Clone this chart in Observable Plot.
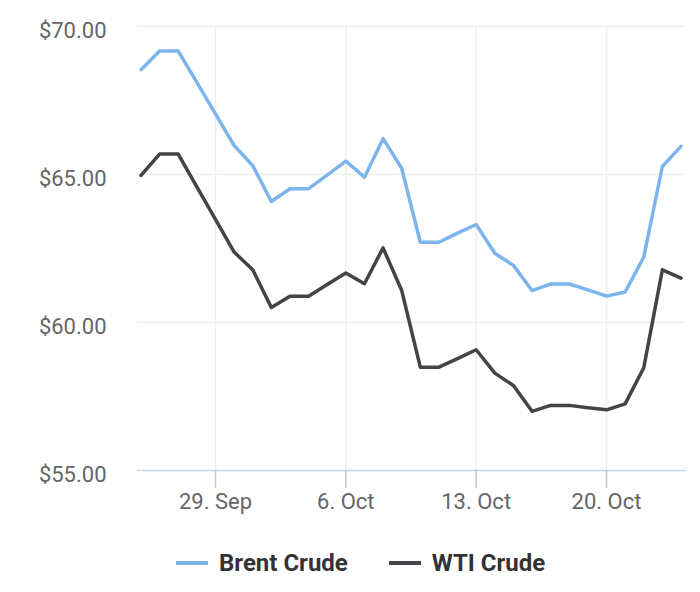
<!DOCTYPE html>
<html>
<head>
<meta charset="utf-8">
<script src="https://cdn.jsdelivr.net/npm/d3@7"></script>
<script src="https://cdn.jsdelivr.net/npm/@observablehq/plot@0.6"></script>
<style>
  html, body { margin: 0; padding: 0; background: #fff; }
  body { width: 700px; height: 592px; position: relative; overflow: hidden; font-family: Roboto, "Noto Sans", sans-serif; }
  #chart svg { display: block; }
  #legend { position: absolute; left: 176px; top: 549px; display: flex; align-items: center; font-family: Roboto, sans-serif; font-weight: bold; font-size: 24px; color: #333; }
  .item { display: flex; align-items: center; }
  .swatch { width: 32px; height: 4px; margin-right: 11px; }
  .item + .item { margin-left: 41px; }
</style>
</head>
<body>
<div id="chart"></div>
<div id="legend"></div>
<script>
const dates = ["2025-09-25","2025-09-26","2025-09-27","2025-09-28","2025-09-29","2025-09-30",
  "2025-10-01","2025-10-02","2025-10-03","2025-10-04","2025-10-05","2025-10-06","2025-10-07",
  "2025-10-08","2025-10-09","2025-10-10","2025-10-11","2025-10-12","2025-10-13","2025-10-14",
  "2025-10-15","2025-10-16","2025-10-17","2025-10-18","2025-10-19","2025-10-20","2025-10-21",
  "2025-10-22","2025-10-23","2025-10-24"];
const brent = [68.54, 69.17, 69.17, 68.11, 67.05, 65.98, 65.30, 64.09, 64.52, 64.52,
  64.98, 65.45, 64.91, 66.21, 65.21, 62.71, 62.71, 63.02, 63.31, 62.34,
  61.93, 61.08, 61.30, 61.30, 61.10, 60.89, 61.03, 62.21, 65.27, 65.95];
const wti = [64.97, 65.69, 65.69, 64.58, 63.48, 62.38, 61.78, 60.51, 60.89, 60.89,
  61.28, 61.67, 61.31, 62.52, 61.08, 58.49, 58.49, 58.78, 59.08, 58.29,
  57.87, 57.00, 57.20, 57.20, 57.12, 57.05, 57.25, 58.47, 61.78, 61.50];
const seriesNames = ["Brent Crude", "WTI Crude"];
const seriesColors = ["#7cb5ec", "#434348"];
const xTicks = ["2025-09-29", "2025-10-06", "2025-10-13", "2025-10-20"];
const monthNames = ["Jan","Feb","Mar","Apr","May","Jun","Jul","Aug","Sep","Oct","Nov","Dec"];
const yTicks = [55, 60, 65, 70];

const parse = s => new Date(s + "T00:00:00Z");
const rows = [];
dates.forEach((d, i) => {
  rows.push({date: parse(d), value: brent[i], series: seriesNames[0]});
  rows.push({date: parse(d), value: wti[i], series: seriesNames[1]});
});
const xTickDates = xTicks.map(parse);
const fmtDate = d => `${d.getUTCDate()}. ${monthNames[d.getUTCMonth()]}`;

const chart = Plot.plot({
  width: 700,
  height: 530,
  marginLeft: 137,
  marginRight: 14,
  marginTop: 26,
  marginBottom: 60,
  style: {fontFamily: "Roboto, sans-serif", fontSize: "22px", background: "#fff", overflow: "visible"},
  x: {type: "utc", domain: [parse(dates[0]), parse(dates[dates.length - 1])], range: [140.5, 680.5]},
  y: {domain: [55, 70]},
  color: {domain: seriesNames, range: seriesColors},
  marks: [
    Plot.gridY(yTicks, {stroke: "#efefef", strokeOpacity: 1, strokeWidth: 1.5}),
    Plot.gridX(xTickDates, {stroke: "#efefef", strokeOpacity: 1, strokeWidth: 1.5}),
    Plot.ruleY([55], {stroke: "#ccd6eb", strokeWidth: 1.5}),
    Plot.axisY(yTicks, {tickSize: 0, tickPadding: 31, tickFormat: d => `$${d.toFixed(2)}`, fill: "#666", fontSize: 22, dy: 4.5, label: null}),
    Plot.axisX(xTickDates, {tickSize: 18, tickPadding: 5, tickFormat: fmtDate, stroke: "#c8c8c8", strokeWidth: 1.5, fill: "#666", fontSize: 22, label: null}),
    Plot.line(rows, {x: "date", y: "value", stroke: "series", strokeWidth: 3.5, strokeLinejoin: "round", strokeLinecap: "round"})
  ]
});
document.getElementById("chart").append(chart);

const legend = document.getElementById("legend");
seriesNames.forEach((name, i) => {
  const item = document.createElement("div");
  item.className = "item";
  const sw = document.createElement("div");
  sw.className = "swatch";
  sw.style.background = seriesColors[i];
  const t = document.createElement("span");
  t.textContent = name;
  item.append(sw, t);
  legend.append(item);
});
</script>
</body>
</html>
